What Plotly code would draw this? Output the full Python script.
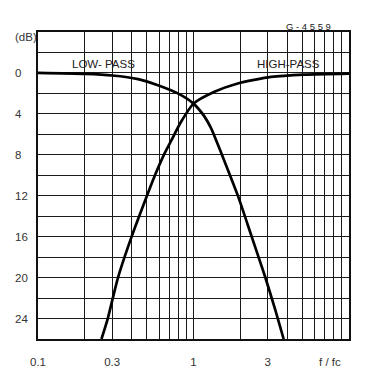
import plotly.graph_objects as go

# ---- data ----
lp_f = [0.1, 0.2, 0.3, 0.44, 0.59, 0.793, 1.0, 1.177, 1.297, 1.40, 1.589, 1.934, 2.358, 2.87, 3.35, 3.80]
lp_db = [0.0, 0.1, 0.25, 0.6, 1.2, 2.0, 3.0, 4.27, 5.4, 6.6, 8.7, 12.04, 15.92, 19.8, 23.1, 26.0]

hp_f = [0.256, 0.281, 0.327, 0.400, 0.502, 0.565, 0.645, 0.72, 0.83, 1.0, 1.364, 1.925, 3.15, 5.17, 10.0]
hp_db = [26.0, 24.0, 20.0, 16.0, 12.0, 10.0, 8.0, 6.6, 4.8, 3.0, 1.84, 1.03, 0.39, 0.16, 0.06]

x_grid = [0.1, 0.2, 0.3, 0.4, 0.5, 0.6, 0.7, 0.8, 0.9,
          1, 2, 3, 4, 5, 6, 7, 8, 9, 10]
x_labels = {0.1: "0.1", 0.3: "0.3", 1: "1", 3: "3"}
y_grid = list(range(-4, 27, 2))
y_labels = [0, 4, 8, 12, 16, 20, 24]

fig = go.Figure()
fig.add_trace(go.Scatter(x=lp_f, y=lp_db, mode="lines", name="LOW-PASS",
                         line=dict(color="black", width=2.7, shape="spline", smoothing=0.6)))
fig.add_trace(go.Scatter(x=hp_f, y=hp_db, mode="lines", name="HIGH-PASS",
                         line=dict(color="black", width=2.7, shape="spline", smoothing=0.6)))

font = dict(family="Liberation Sans", size=11.5, color="#333")

fig.update_xaxes(type="log", range=[-1, 1], automargin=False,
                 tickvals=x_grid,
                 ticktext=[x_labels.get(v, "") for v in x_grid],
                 showgrid=True, gridcolor="#1a1a1a", gridwidth=1.3,
                 showline=True, linecolor="#111", linewidth=1.7, mirror=True,
                 ticks="", tickfont=font, ticklabelstandoff=11, zeroline=False)
fig.update_yaxes(range=[26, -4], automargin=False,
                 tickvals=y_grid, showticklabels=False,
                 showgrid=True, gridcolor="#1a1a1a", gridwidth=1.3,
                 showline=True, linecolor="#111", linewidth=1.7, mirror=True,
                 ticks="", zeroline=False)

# y tick labels, left-aligned as on the original sheet
for v in y_labels:
    fig.add_annotation(text=str(v), xref="paper", yref="y", x=-0.08, y=v,
                       xanchor="left", yanchor="middle", showarrow=False, font=font)

ann = dict(showarrow=False, font=font)
fig.add_annotation(text="(dB)", xref="paper", yref="paper", x=-0.040, y=1.0,
                   xanchor="center", yanchor="middle", yshift=-5, **ann)
fig.add_annotation(text="f / fc", xref="paper", yref="paper", x=0.94, y=0,
                   xanchor="center", yanchor="middle", yshift=-23, **ann)
fig.add_annotation(text="G - 4 5 5 9", xref="paper", yref="paper", x=0.87, y=1.0,
                   xanchor="center", yanchor="bottom", yshift=-2,
                   showarrow=False, font=dict(family="Liberation Sans", size=9.5, color="#222"))
fig.add_annotation(text="LOW- PASS", x=-0.582, y=-0.9, xanchor="center", yanchor="middle",
                   showarrow=False, font=dict(family="Liberation Sans", size=11.5, color="#222"))
fig.add_annotation(text="HIGH-PASS", x=0.61, y=-0.85, xanchor="center", yanchor="middle",
                   showarrow=False, font=dict(family="Liberation Sans", size=11.5, color="#222"))

# faint right edge of the scanned sheet
fig.add_shape(type="line", xref="paper", yref="paper",
              x0=1.076, x1=1.076, y0=-0.2, y1=1.2,
              line=dict(color="#d0d0d0", width=1.2, dash="dash"), layer="below")

fig.update_layout(width=369, height=367, showlegend=False,
                  margin=dict(l=30, r=28, t=24, b=36),
                  paper_bgcolor="white", plot_bgcolor="white")

fig.write_html("out.html")
